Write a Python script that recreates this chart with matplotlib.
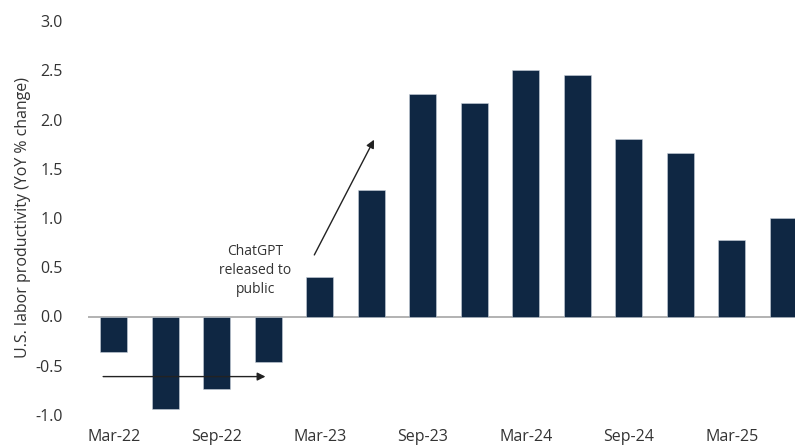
import matplotlib.pyplot as plt
import numpy as np

plt.rcParams['font.family'] = ['Open Sans', 'DejaVu Sans']

# quarterly YoY % change in U.S. labor productivity
quarters = ['Mar-22', 'Jun-22', 'Sep-22', 'Dec-22', 'Mar-23', 'Jun-23', 'Sep-23',
            'Dec-23', 'Mar-24', 'Jun-24', 'Sep-24', 'Dec-24', 'Mar-25', 'Jun-25']
productivity = [-0.36, -0.94, -0.74, -0.46, 0.40, 1.28, 2.26,
                2.17, 2.50, 2.45, 1.80, 1.66, 0.78, 1.00]
y_ticks = [-1.0, -0.5, 0.0, 0.5, 1.0, 1.5, 2.0, 2.5, 3.0]

bar_color = '#0f2743'
text_color = '#333333'

fig = plt.figure(figsize=(7.95, 4.47), dpi=100)
ax = fig.add_axes([88 / 795, 32 / 447, 707 / 795, 394 / 447])

x = np.arange(len(quarters))
ax.bar(x, productivity, width=0.52, color=bar_color, edgecolor='#c8d0da', linewidth=0.4, zorder=2)
ax.axhline(0, color='#a6a6a6', linewidth=1.2, zorder=1)

ax.set_xlim(-0.5, 13.23)
ax.set_ylim(-1.0, 3.0)
ax.set_yticks(y_ticks)
ax.set_yticklabels([f'{v:.1f}' for v in y_ticks])
ax.set_xticks(x[::2])
ax.set_xticklabels(quarters[::2])
ax.tick_params(axis='both', length=0, labelsize=11.5, colors=text_color)
ax.tick_params(axis='x', pad=10)
ax.tick_params(axis='y', pad=18)
for s in ax.spines.values():
    s.set_visible(False)

ax.set_ylabel('U.S. labor productivity (YoY % change)', fontsize=11.5, color=text_color, labelpad=3)

# annotations
ax.annotate('', xy=(3.0, -0.61), xytext=(-0.26, -0.61),
            arrowprops=dict(arrowstyle='-|>', color='#222222', lw=1.0, mutation_scale=12))
ax.annotate('', xy=(5.08, 1.82), xytext=(3.87, 0.60),
            arrowprops=dict(arrowstyle='-|>', color='#222222', lw=1.0, mutation_scale=12))
ax.text(2.75, 0.47, 'ChatGPT\nreleased to\npublic', ha='center', va='center',
        fontsize=10, color=text_color, linespacing=1.35)

plt.savefig('out.png', dpi=100)
